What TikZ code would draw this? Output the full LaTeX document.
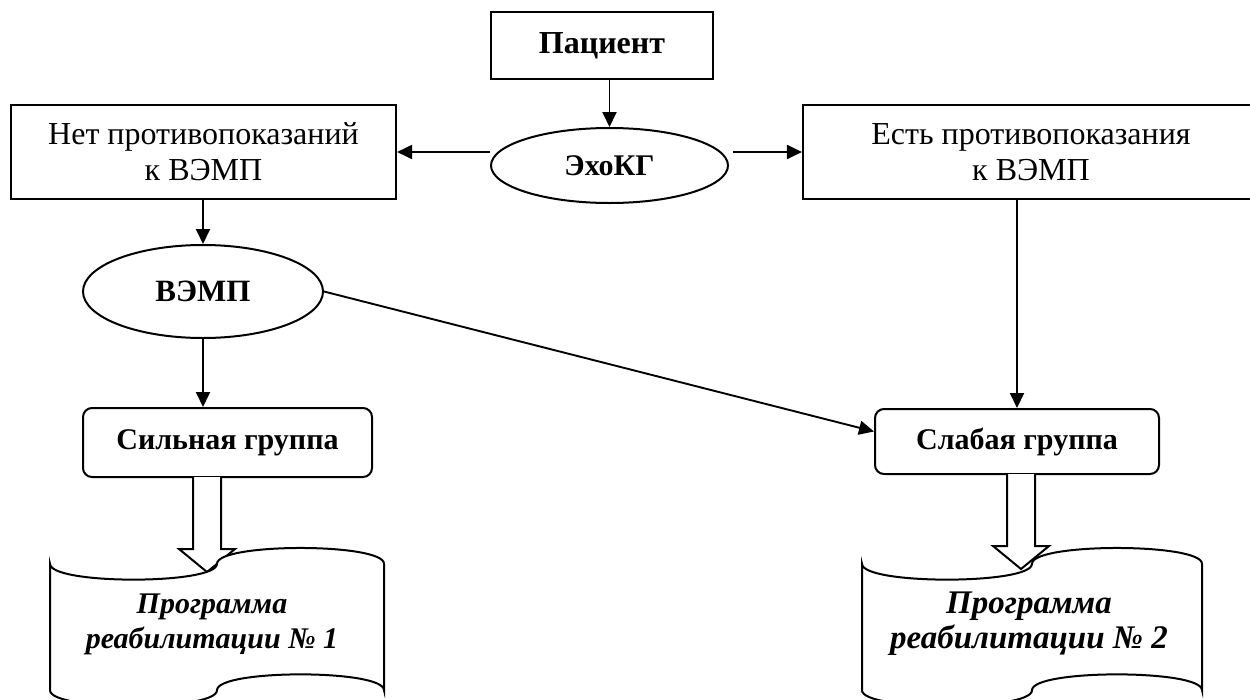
\documentclass[tikz,border=0pt]{standalone}
\usepackage{fontspec}
\setmainfont{Liberation Serif}
\usetikzlibrary{shapes.geometric,arrows.meta,calc}
\begin{document}
\begin{tikzpicture}[x=1pt,y=-1pt,
  line width=1.9pt,
  every node/.style={inner sep=0pt},
  box/.style={draw, rectangle, line width=2.1pt, align=center, font=\fontsize{32}{36}\selectfont},
  oval/.style={draw, ellipse, line width=2pt, inner sep=0pt},
  rbox/.style={draw, rectangle, line width=2pt, rounded corners=9pt, font=\fontsize{30}{36}\selectfont\bfseries},
  arr/.style={-{Triangle[length=15pt,width=14pt]}},
  doctext/.style={align=center},
  hollow/.style={draw, fill=white, line width=2pt},
  tape/.style={draw, fill=white, line width=2pt}
]
\useasboundingbox (0,0) rectangle (1250,699);
\clip (0,0) rectangle (1250,699);

% nodes
\node[box, minimum width=222pt, minimum height=67pt, font=\fontsize{32}{36}\selectfont\bfseries] (pac) at (602,45.5) {Пациент};
\node[oval, minimum width=237pt, minimum height=75pt, font=\fontsize{30}{36}\selectfont\bfseries] (eho) at (609.5,165.5) {ЭхоКГ};
\node[box, minimum width=385pt, minimum height=94pt] (nyet) at (203.5,152) {Нет противопоказаний\\к ВЭМП};
\node[box, minimum width=456pt, minimum height=94pt] (yes) at (1031,152) {Есть противопоказания\\к ВЭМП};
\node[oval, minimum width=240pt, minimum height=93pt, font=\fontsize{31}{36}\selectfont\bfseries] (vemp) at (203,291.5) {ВЭМП};
\node[rbox, minimum width=289pt, minimum height=69pt] (strong) at (227.5,442.5) {Сильная группа};
\node[rbox, minimum width=284pt, minimum height=65pt] (weak) at (1017,441.5) {Слабая группа};

% connectors
\draw[arr] (pac.south -| eho.north) -- (eho.north);
\draw[arr] (eho.west |- nyet.east) -- (nyet.east);
\draw[arr] ([xshift=4pt]eho.east |- yes.west) -- (yes.west);
\draw[arr] (nyet.south -| vemp.north) -- (vemp.north);
\draw[arr] (vemp.south) -- (vemp.south |- strong.north);
\draw[arr] (vemp.east) -- ([yshift=10pt]weak.west);
\draw[arr] (weak.north |- yes.south) -- (weak.north);

% hollow block arrows
\draw[hollow] (193,477) -- (193,549) -- (179,549) -- (207,572) -- (235,549) -- (221,549) -- (221,477);
\draw[hollow] (1007,474) -- (1007,546) -- (993,546) -- (1021,569) -- (1049,546) -- (1035,546) -- (1035,474);

% punched tapes
\draw[tape] (50,563.8) .. controls (50,584.9) and (217,584.9) .. (217,563.8)
  .. controls (217,542.7) and (384,542.7) .. (384,563.8)
  -- (384,690.2) .. controls (384,669.1) and (217,669.1) .. (217,690.2)
  .. controls (217,711.3) and (50,711.3) .. (50,690.2) -- cycle;
\draw[tape] (862,563.8) .. controls (862,584.9) and (1032,584.9) .. (1032,563.8)
  .. controls (1032,542.7) and (1202,542.7) .. (1202,563.8)
  -- (1202,690.2) .. controls (1202,669.1) and (1032,669.1) .. (1032,690.2)
  .. controls (1032,711.3) and (862,711.3) .. (862,690.2) -- cycle;

\node[doctext, font=\fontsize{30}{35}\selectfont\bfseries\itshape] (prog1) at (212,624) {Программа\\реабилитации № 1};
\node[doctext, font=\fontsize{33}{35}\selectfont\bfseries\itshape] (prog2) at (1029,624) {Программа\\реабилитации № 2};
\end{tikzpicture}
\end{document}
